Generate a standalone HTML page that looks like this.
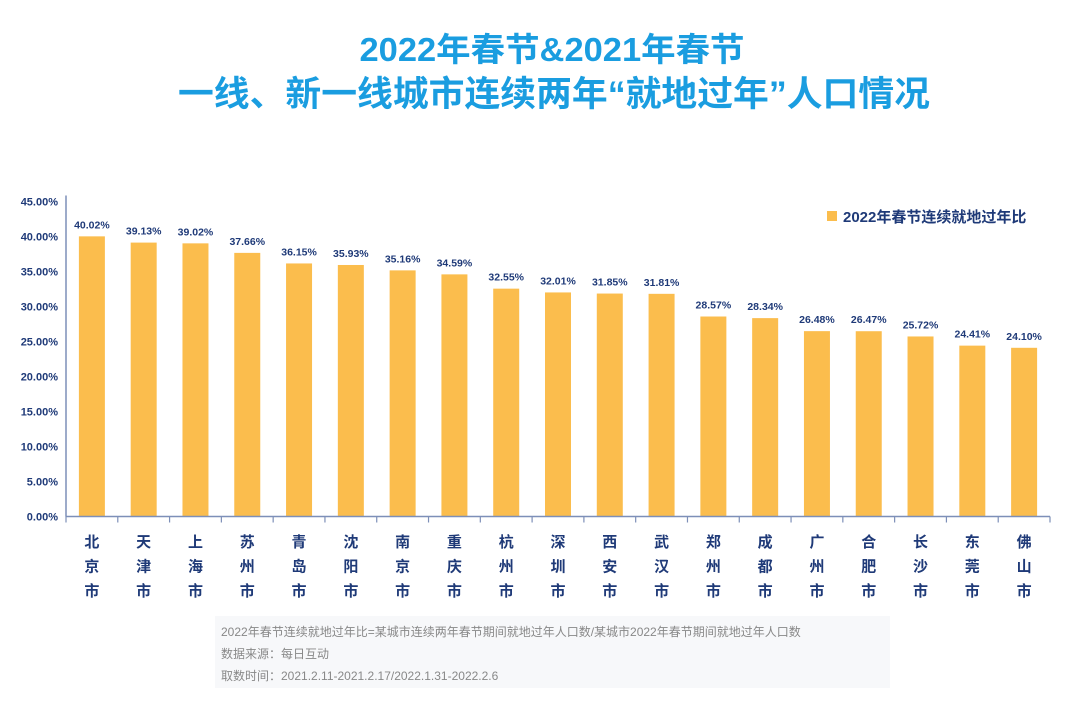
<!DOCTYPE html>
<html><head><meta charset="utf-8"><style>
body{margin:0;width:1080px;height:708px;background:#fff;overflow:hidden;font-family:"Liberation Sans","Noto Sans CJK SC",sans-serif;}
svg text{font-family:"Liberation Sans","Noto Sans CJK SC",sans-serif;}
</style></head><body>
<svg width="1080" height="708">
<text x="552" y="61" text-anchor="middle" font-size="33" font-weight="bold" fill="#1a9de0" textLength="385" lengthAdjust="spacingAndGlyphs">2022年春节&amp;2021年春节</text>
<text x="554" y="106" text-anchor="middle" font-size="35" font-weight="bold" fill="#1a9de0" textLength="752" lengthAdjust="spacingAndGlyphs">一线、新一线城市连续两年“就地过年”人口情况</text>
<g id="yaxis"></g>
<g id="bars"></g>
<g id="xaxis"></g>
<rect x="827" y="211" width="10" height="10" fill="#fbbd4d"/>
<text x="843" y="222" font-size="15" font-weight="bold" fill="#1f3a78">2022年春节连续就地过年比</text>
<rect x="215" y="616" width="675" height="72" fill="#f7f8fa"/>
<text x="221" y="636" font-size="12" fill="#888">2022年春节连续就地过年比=某城市连续两年春节期间就地过年人口数/某城市2022年春节期间就地过年人口数</text>
<text x="221" y="658" font-size="12" fill="#888">数据来源：每日互动</text>
<text x="221" y="680" font-size="12" fill="#888">取数时间：2021.2.11-2021.2.17/2022.1.31-2022.2.6</text>
</svg>
<script>
const categories=["北京市","天津市","上海市","苏州市","青岛市","沈阳市","南京市","重庆市","杭州市","深圳市","西安市","武汉市","郑州市","成都市","广州市","合肥市","长沙市","东莞市","佛山市"];
const values=[40.02,39.13,39.02,37.66,36.15,35.93,35.16,34.59,32.55,32.01,31.85,31.81,28.57,28.34,26.48,26.47,25.72,24.41,24.10];
const yTicks=[0,5,10,15,20,25,30,35,40,45];
const NS="http://www.w3.org/2000/svg";
const x0=66,x1=1050,yBase=516.5,yTop=201.5,yMax=45;
const step=(x1-x0)/categories.length;
function y(v){return yBase-(v/yMax)*(yBase-yTop);}
function xc(i){return x0+step*(i+0.5);}
function mk(tag,attrs,parent,txt){const e=document.createElementNS(NS,tag);for(const k in attrs)e.setAttribute(k,attrs[k]);if(txt!=null)e.textContent=txt;parent.appendChild(e);return e;}
const ya=document.getElementById('yaxis'),bg=document.getElementById('bars'),xa=document.getElementById('xaxis');
yTicks.forEach(t=>{const e=mk('text',{x:58,y:y(t)+4,'text-anchor':'end','font-size':11,'font-weight':'bold',fill:'#1f3a78'},ya,t.toFixed(2)+'%');

});
const al=mk('line',{x1:x0,y1:yTop-6,x2:x0,y2:yBase,stroke:'#7d8fb8','stroke-width':1.5},ya);


const xl=mk('line',{x1:x0,y1:yBase,x2:x1,y2:yBase,stroke:'#7d8fb8','stroke-width':1.5},xa);


for(let i=0;i<=categories.length;i++){const tk=mk('line',{x1:x0+step*i,y1:yBase,x2:x0+step*i,y2:yBase+6,stroke:'#7d8fb8','stroke-width':1.2},xa);

}
const bw=26;
categories.forEach((c,i)=>{const v=values[i];
const r=mk('rect',{x:xc(i)-bw/2,y:y(v),width:bw,height:yBase-y(v),fill:'#fbbd4d'},bg);


const l=mk('text',{x:xc(i),y:y(v)-8,'text-anchor':'middle','font-size':10.5,'font-weight':'bold',fill:'#1f3a78'},bg,v.toFixed(2)+'%');


[...c].forEach((ch,j)=>{const t=mk('text',{x:xc(i),y:547+j*24.5,'text-anchor':'middle','font-size':15,'font-weight':'bold',fill:'#1f3a78'},xa,ch);

});
});
</script>
</body></html>
